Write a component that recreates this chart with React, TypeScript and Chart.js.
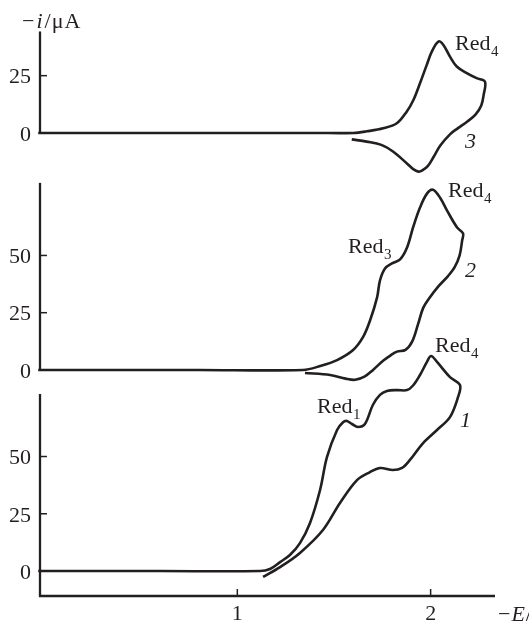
import React, { useEffect, useRef } from 'react';
import { Chart, registerables } from 'chart.js';

Chart.register(...registerables);

// ---- data (potential −E in V, current −i in µA) ----
const potentialTicks = [1, 2];
const topTicks = [0, 25];
const midTicks = [0, 25, 50];
const botTicks = [0, 25, 50];

// curve 3 (top panel)
const curve3E = [-0.03, 0.8, 1.4, 1.6, 1.67, 1.755, 1.825, 1.876, 1.911, 1.945, 1.98, 2.006, 2.04, 2.066, 2.1, 2.135, 2.187, 2.238, 2.281,
  2.274, 2.262, 2.232, 2.19, 2.14, 2.1, 2.05, 2.015, 1.985, 1.955, 1.937, 1.91, 1.876, 1.807, 1.745, 1.669, 1.592];
const curve3I = [0, 0, 0, 0, 0.7, 2.0, 4.2, 9.3, 14.4, 21.7, 29.7, 35.5, 39.9, 38.4, 33.3, 29.0, 26.1, 23.9, 22.4,
  16.5, 12.0, 8.0, 5.0, 2.0, -0.6, -5.5, -10.5, -14.5, -16.5, -16.9, -15.8, -13.2, -8.2, -5.2, -3.8, -2.8];

// curve 2 (middle panel)
const curve2E = [-0.03, 0.8, 1.34, 1.428, 1.516, 1.599, 1.65, 1.687, 1.723, 1.738, 1.764, 1.8, 1.842, 1.878, 1.909, 1.945, 1.981, 2.012, 2.049, 2.085, 2.137, 2.168,
  2.163, 2.15, 2.125, 2.09, 2.04, 1.99, 1.961, 1.935, 1.905, 1.87, 1.826, 1.795, 1.754, 1.702, 1.66, 1.61, 1.56, 1.48, 1.35];
const curve2I = [0, 0, 0, 1.7, 4.3, 8.7, 14.3, 21.7, 31.7, 39.1, 44.3, 46.5, 48.3, 53.5, 62.2, 70.9, 77.0, 78.7, 75.2, 69.6, 62.2, 59.6,
  56.5, 50.0, 45.0, 41.0, 36.5, 31.0, 27.0, 20.0, 12.5, 8.8, 8.0, 6.5, 4.0, 0, -2.8, -4.3, -3.8, -2.2, -1.3];

// curve 1 (bottom panel)
const curve1E = [-0.03, 0.6, 1.117, 1.169, 1.221, 1.272, 1.324, 1.376, 1.428, 1.464, 1.516, 1.547, 1.567, 1.593, 1.624, 1.66, 1.701, 1.738, 1.774, 1.826, 1.878, 1.909, 1.945, 1.981, 2.002, 2.033, 2.1, 2.152,
  2.142, 2.1, 2.033, 1.961, 1.893, 1.852, 1.805, 1.738, 1.686, 1.619, 1.531, 1.443, 1.324, 1.221, 1.133];
const curve1I = [0, 0, 0, 0.9, 3.9, 7.0, 12.2, 21.0, 35.4, 49.8, 61.6, 65.0, 65.5, 64.2, 62.9, 64.2, 72.5, 76.9, 78.6, 79.0, 79.0, 81.0, 85.6, 91.3, 93.9, 91.3, 84.7, 81.2,
  76.0, 67.2, 61.6, 55.9, 48.5, 45.0, 44.1, 45.0, 43.2, 39.7, 29.7, 17.9, 7.9, 1.7, -2.6];

// peak labels and curve numbers (anchored in data units)
const peakLabels = [
  { axis: 'yTop', text: 'Red', sub: '4', e: 2.126, i: 36.2 },
  { axis: 'yMid', text: 'Red', sub: '4', e: 2.09, i: 75.5 },
  { axis: 'yMid', text: 'Red', sub: '3', e: 1.573, i: 51.1 },
  { axis: 'yBot', text: 'Red', sub: '4', e: 2.023, i: 95.6 },
  { axis: 'yBot', text: 'Red', sub: '1', e: 1.412, i: 69.0 },
];
const curveNumbers = [
  { axis: 'yTop', text: '3', e: 2.178, i: -6.6 },
  { axis: 'yMid', text: '2', e: 2.178, i: 40.6 },
  { axis: 'yBot', text: '1', e: 2.152, i: 62.9 },
];

const INK = '#231f20';
const FONT = "'Liberation Serif', 'Times New Roman', Times, serif";

const panels = [
  { id: 'yTop', ticks: topTicks, min: -18.8, max: 49.3, weight: 156, axisTop: 44.3, axisBottom: 0 },
  { id: 'yMid', ticks: midTicks, min: -5.7, max: 84.7, weight: 207, axisTop: 81.7, axisBottom: 0 },
  { id: 'yBot', ticks: botTicks, min: -10.9, max: 82.1, weight: 213, axisTop: 77.3, axisBottom: null as number | null },
];

const decorPlugin = {
  id: 'decor',
  afterDatasetsDraw(chart: any) {
    const { ctx, chartArea, scales } = chart;
    const xs = scales.x;
    const ax = chartArea.left + 1;
    ctx.save();
    ctx.strokeStyle = INK;
    ctx.fillStyle = INK;
    for (const p of panels) {
      const s = scales[p.id];
      const y1 = s.getPixelForValue(p.axisTop);
      const y2 = s.getPixelForValue(p.axisBottom === null ? s.min : p.axisBottom);
      ctx.lineWidth = 2.3;
      ctx.beginPath();
      ctx.moveTo(ax, y1);
      ctx.lineTo(ax, y2 + 1);
      ctx.stroke();
      ctx.lineWidth = 1.5;
      for (const t of p.ticks) {
        const y = s.getPixelForValue(t);
        ctx.beginPath();
        ctx.moveTo(ax, y);
        ctx.lineTo(ax + 7, y);
        ctx.stroke();
      }
    }
    const yb = chartArea.bottom;
    ctx.lineWidth = 2.3;
    ctx.beginPath();
    ctx.moveTo(chartArea.left, yb);
    ctx.lineTo(chartArea.right, yb);
    ctx.stroke();
    ctx.lineWidth = 1.5;
    for (const t of potentialTicks) {
      const x = xs.getPixelForValue(t);
      ctx.beginPath();
      ctx.moveTo(x, yb);
      ctx.lineTo(x, yb - 7);
      ctx.stroke();
    }
    ctx.textBaseline = 'alphabetic';
    ctx.textAlign = 'left';
    for (const l of peakLabels) {
      const x = xs.getPixelForValue(l.e);
      const y = scales[l.axis].getPixelForValue(l.i);
      ctx.font = `22px ${FONT}`;
      ctx.fillText(l.text, x, y);
      const w = ctx.measureText(l.text).width;
      ctx.font = `15px ${FONT}`;
      ctx.fillText(l.sub, x + w + 0.5, y + 6);
    }
    for (const n of curveNumbers) {
      const x = xs.getPixelForValue(n.e);
      const y = scales[n.axis].getPixelForValue(n.i);
      ctx.font = `italic 22px ${FONT}`;
      ctx.fillText(n.text, x, y);
    }
    const parts = (x: number, y: number, segs: [string, boolean, number][]) => {
      let cx = x;
      for (const [t, it, gap] of segs) {
        ctx.font = `${it ? 'italic ' : ''}22px ${FONT}`;
        ctx.fillText(t, cx, y);
        cx += ctx.measureText(t).width + gap;
      }
    };
    parts(chartArea.left - 17, chartArea.top + 8, [['\u2212', false, 2], ['i', true, 2], ['/', false, 1], ['\u03bc', false, 1], ['A', false, 0]]);
    parts(chartArea.right + 3, yb + 25, [['\u2212', false, 1], ['E', true, 1], ['/V', false, 0]]);
    ctx.restore();
  },
};

export default function App() {
  const canvasRef = useRef<HTMLCanvasElement | null>(null);
  useEffect(() => {
    const canvas = canvasRef.current;
    if (!canvas) return;
    const common = {
      showLine: true,
      pointRadius: 0,
      borderColor: INK,
      backgroundColor: INK,
      borderWidth: 2.6,
      tension: 0.35,
      clip: false as any,
      fill: false,
      borderJoinStyle: 'round' as const,
    };
    const pts = (xs: number[], ys: number[]) => xs.map((x, k) => ({ x, y: ys[k] }));
    const yScales: any = {};
    panels.forEach((p, idx) => {
      yScales[p.id] = {
        type: 'linear',
        position: 'left',
        stack: 'panels',
        stackWeight: p.weight,
        weight: 3 - idx,
        min: p.min,
        max: p.max,
        grid: { display: false, drawTicks: false },
        border: { display: false },
        ticks: {
          color: INK,
          font: { family: FONT, size: 22 },
          padding: 8,
          labelOffset: 2,
          callback: (v: any) => String(v),
        },
        afterBuildTicks: (s: any) => {
          s.ticks = p.ticks.map((v) => ({ value: v }));
        },
        afterFit: (s: any) => {
          s.width = 39;
          s.paddingTop = 0;
          s.paddingBottom = 0;
        },
      };
    });
    const chart = new Chart(canvas, {
      type: 'scatter',
      data: {
        datasets: [
          { ...common, data: pts(curve3E, curve3I), yAxisID: 'yTop' },
          { ...common, data: pts(curve2E, curve2I), yAxisID: 'yMid' },
          { ...common, data: pts(curve1E, curve1I), yAxisID: 'yBot' },
        ],
      },
      options: {
        responsive: false,
        animation: false,
        events: [],
        layout: { padding: { top: 20, right: 34, left: 0, bottom: 0 } },
        plugins: { legend: { display: false }, tooltip: { enabled: false } },
        scales: {
          x: {
            type: 'linear',
            min: -0.026,
            max: 2.333,
            grid: { display: false, drawTicks: false },
            border: { display: false },
            ticks: {
              color: INK,
              font: { family: FONT, size: 22 },
              padding: 5,
              callback: (v: any) => String(v),
            },
            afterBuildTicks: (s: any) => {
              s.ticks = potentialTicks.map((v) => ({ value: v }));
            },
            afterFit: (s: any) => {
              s.height = 28;
              s.paddingLeft = 0;
              s.paddingRight = 0;
            },
          },
          ...yScales,
        },
      } as any,
      plugins: [decorPlugin],
    });
    return () => chart.destroy();
  }, []);
  return (
    <div style={{ position: 'absolute', left: 0, top: 0, width: 529, height: 624, background: '#fff' }}>
      <canvas ref={canvasRef} width={529} height={624} style={{ display: 'block' }} />
    </div>
  );
}
